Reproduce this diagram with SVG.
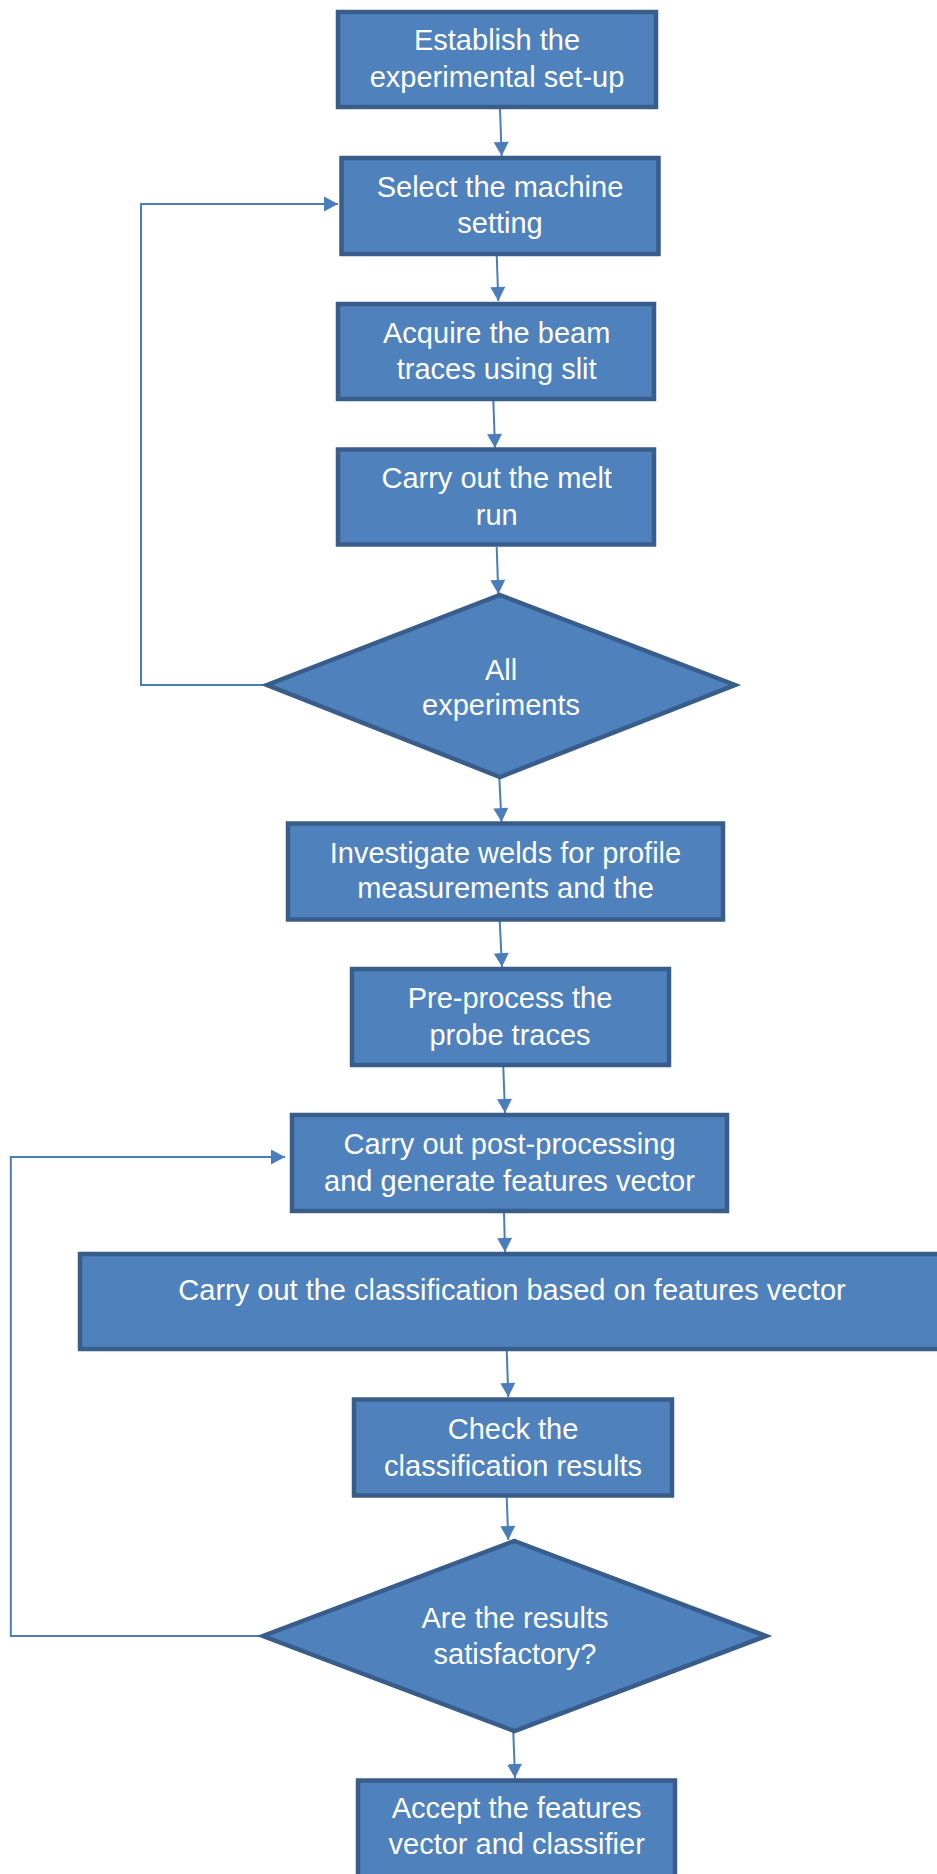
<svg xmlns="http://www.w3.org/2000/svg" width="937" height="1874" viewBox="0 0 937 1874">
  <style>
    .box { fill: #4F81BD; stroke: #385D8A; stroke-width: 4.5; }
    .lbl { font-family: "Liberation Sans", Arial, sans-serif; font-size: 29px; fill: #FFFFFF; text-anchor: middle; }
    .conn { fill: none; stroke: #4A7EBB; stroke-width: 2; marker-end: url(#arrow); }
  </style>
  <defs>
    <marker id="arrow" markerUnits="userSpaceOnUse" markerWidth="16" markerHeight="16" viewBox="0 0 16 16" refX="15" refY="8" orient="auto">
      <path d="M1,0.5 L15,8 L1,15.5 Z" fill="#4A7EBB"/>
    </marker>
  </defs>
  <rect width="937" height="1874" fill="#FFFFFF"/>

  <g id="connectors">
    <line class="conn" x1="500" y1="109" x2="501.7" y2="156"/>
    <line class="conn" x1="496.7" y1="254" x2="498.3" y2="301"/>
    <line class="conn" x1="493.3" y1="400" x2="495" y2="448"/>
    <line class="conn" x1="496.7" y1="547" x2="498.3" y2="594"/>
    <line class="conn" x1="499.3" y1="777" x2="501.5" y2="822"/>
    <line class="conn" x1="499.7" y1="921" x2="502" y2="967"/>
    <line class="conn" x1="503.3" y1="1067" x2="505" y2="1113"/>
    <line class="conn" x1="504" y1="1212" x2="505" y2="1252"/>
    <line class="conn" x1="506.7" y1="1350" x2="508.3" y2="1397"/>
    <line class="conn" x1="506.7" y1="1497" x2="508.3" y2="1540"/>
    <line class="conn" x1="513.3" y1="1732" x2="515" y2="1778"/>
    <polyline class="conn" points="267,685 141,685 141,204 338,204"/>
    <polyline class="conn" points="263,1636 10.8,1636 10.8,1157 285,1157"/>
  </g>

  <g id="n1">
    <rect class="box" x="338" y="12" width="318" height="95"/>
    <text class="lbl" x="497" y="50">Establish the</text>
    <text class="lbl" x="497" y="87">experimental set-up</text>
  </g>
  <g id="n2">
    <rect class="box" x="341.5" y="158" width="317" height="96"/>
    <text class="lbl" x="500" y="197">Select the machine</text>
    <text class="lbl" x="500" y="233">setting</text>
  </g>
  <g id="n3">
    <rect class="box" x="338" y="304" width="316" height="95"/>
    <text class="lbl" x="496.7" y="343">Acquire the beam</text>
    <text class="lbl" x="496.7" y="379">traces using slit</text>
  </g>
  <g id="n4">
    <rect class="box" x="338" y="449.5" width="316" height="95"/>
    <text class="lbl" x="496.7" y="488">Carry out the melt</text>
    <text class="lbl" x="496.7" y="525">run</text>
  </g>
  <g id="d1">
    <polygon class="box" points="500,595 735,685 500,777 267,685"/>
    <text class="lbl" x="501" y="680">All</text>
    <text class="lbl" x="501" y="715">experiments</text>
  </g>
  <g id="n5">
    <rect class="box" x="288" y="823.5" width="435" height="96"/>
    <text class="lbl" x="505.5" y="862.5">Investigate welds for profile</text>
    <text class="lbl" x="505.5" y="898">measurements and the</text>
  </g>
  <g id="n6">
    <rect class="box" x="352" y="969" width="317" height="96"/>
    <text class="lbl" x="510" y="1008">Pre-process the</text>
    <text class="lbl" x="510" y="1044.5">probe traces</text>
  </g>
  <g id="n7">
    <rect class="box" x="292" y="1115" width="435" height="96"/>
    <text class="lbl" x="509.5" y="1153.5">Carry out post-processing</text>
    <text class="lbl" x="509.5" y="1190.5">and generate features vector</text>
  </g>
  <g id="n8">
    <rect class="box" x="80" y="1254" width="866" height="95"/>
    <text class="lbl" x="512" y="1300">Carry out the classification based on features vector</text>
  </g>
  <g id="n9">
    <rect class="box" x="354" y="1399.5" width="318" height="96"/>
    <text class="lbl" x="513" y="1438.5">Check the</text>
    <text class="lbl" x="513" y="1475.5">classification results</text>
  </g>
  <g id="d2">
    <polygon class="box" points="514.5,1541 766,1636 514.5,1731 263,1636"/>
    <text class="lbl" x="515" y="1628">Are the results</text>
    <text class="lbl" x="515" y="1664">satisfactory?</text>
  </g>
  <g id="n10">
    <rect class="box" x="358" y="1780.5" width="317" height="96"/>
    <text class="lbl" x="516.7" y="1818">Accept the features</text>
    <text class="lbl" x="516.7" y="1854">vector and classifier</text>
  </g>
</svg>
